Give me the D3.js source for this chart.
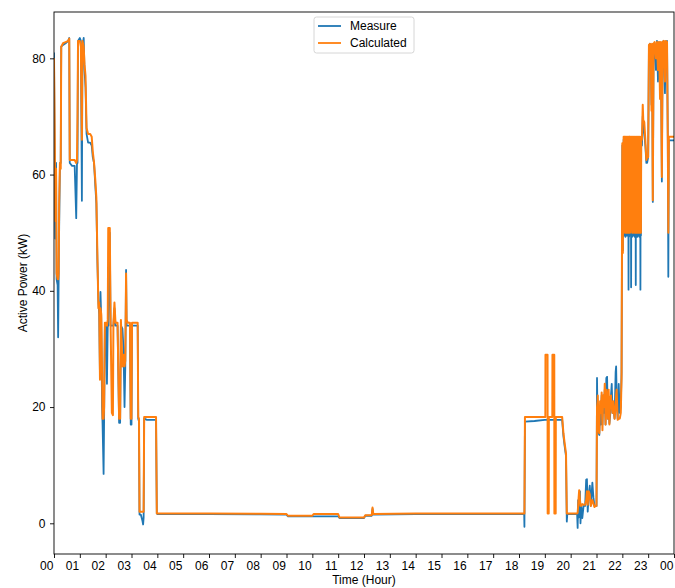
<!DOCTYPE html>
<html>
<head>
<meta charset="utf-8">
<script src="https://cdn.jsdelivr.net/npm/d3@7"></script>
<style>
  body { margin: 0; background: #fff; }
  svg { font-family: "Liberation Sans", Arial, sans-serif; }
  .tick text { font-size: 12px; fill: #000; }
  .tick line { stroke: #000; stroke-width: 0.9; }
</style>
</head>
<body>
<div id="chart"></div>
<script>
// time of day in hours
var hours = [
  0.00, 0.03, 0.05, 0.08, 0.10, 0.14, 0.16, 0.18, 0.20, 0.23, 0.26, 0.28, 0.35, 0.45, 0.55, 0.59,
  0.61, 0.70, 0.80, 0.86, 0.89, 0.91, 0.93, 1.00, 1.04, 1.08, 1.10, 1.15, 1.18, 1.22, 1.26, 1.32,
  1.40, 1.46, 1.50, 1.55, 1.60, 1.64, 1.68, 1.72, 1.75, 1.78, 1.80, 1.83, 1.86, 1.88, 1.92, 1.94,
  1.97, 2.01, 2.05, 2.08, 2.10, 2.16, 2.19, 2.24, 2.28, 2.30, 2.34, 2.38, 2.46, 2.52, 2.56, 2.59,
  2.65, 2.69, 2.73, 2.76, 2.79, 2.81, 2.86, 2.94, 2.97, 3.00, 3.02, 3.10, 3.20, 3.24, 3.26, 3.29,
  3.31, 3.36, 3.42, 3.45, 3.47, 3.49, 3.60, 3.80, 3.95, 3.98,
  4.00, 6.00, 8.00, 9.00, 9.05, 10.00, 10.05, 11.00, 11.05, 12.00, 12.05, 12.30, 12.33, 12.36, 14.00, 16.00, 18.20,
  18.21, 18.23, 18.60, 19.00, 19.02, 19.025, 19.105, 19.11, 19.15, 19.155, 19.29, 19.295, 19.365, 19.37, 19.42, 19.425,
  19.67, 19.72, 19.76, 19.82, 19.85, 19.87,
  20.25, 20.27, 20.29, 20.31, 20.33, 20.36, 20.38, 20.41, 20.45, 20.50, 20.56, 20.60, 20.63, 20.66, 20.70, 20.74,
  20.78, 20.84, 20.88, 20.92, 20.96, 21.00, 21.02, 21.04,
  21.05, 21.08, 21.11, 21.14, 21.17, 21.20, 21.23, 21.26, 21.29, 21.32, 21.35, 21.38, 21.41, 21.44, 21.47, 21.50,
  21.53, 21.56, 21.59, 21.62, 21.65, 21.70, 21.74, 21.76, 21.78, 21.82, 21.86, 21.90, 21.94, 21.97,
  22.00, 22.01, 22.02, 22.03, 22.04, 22.05, 22.06, 22.07, 22.08, 22.09,
  22.10, 22.11, 22.12, 22.13, 22.14, 22.15, 22.16, 22.17, 22.18, 22.19,
  22.20, 22.21, 22.22, 22.23, 22.24, 22.25, 22.26, 22.27, 22.28, 22.29,
  22.30, 22.31, 22.32, 22.33, 22.34, 22.35, 22.36, 22.37, 22.38, 22.39,
  22.40, 22.41, 22.42, 22.43, 22.44, 22.45, 22.46, 22.47, 22.48, 22.49,
  22.50, 22.51, 22.52, 22.53, 22.54, 22.55, 22.56, 22.57, 22.58, 22.59,
  22.60, 22.61, 22.62, 22.63, 22.64, 22.65, 22.66, 22.67, 22.68, 22.69,
  22.70, 22.71, 22.72, 22.73, 22.74, 22.76,
  22.79, 22.81, 22.85, 22.89, 22.93, 22.96, 23.00, 23.03, 23.07, 23.10, 23.13, 23.15, 23.18,
  23.21, 23.25, 23.30, 23.34, 23.38, 23.42, 23.46, 23.49, 23.53, 23.56, 23.60, 23.65, 23.68, 23.73, 23.76, 23.78,
  23.80, 24.00
];

var measure = [
  81, 60, 49, 62, 42, 41, 32, 42, 51, 62, 62, 82, 82.3, 82.6, 83, 83.5,
  62, 61.5, 61.5, 52.5, 62, 62, 83, 83.5, 83, 55.5, 82, 83.5, 78, 75, 67, 65.5,
  65.5, 65, 63, 62, 58, 55, 45, 38, 36, 25, 39.8, 35, 20, 17, 8.5, 18,
  34, 34, 24, 34, 34, 50, 34, 34, 34, 34, 37, 34, 34, 17.3, 17.3, 34,
  33.5, 30, 20, 27, 43.6, 34, 34, 34, 17, 17, 34, 34, 34, 34, 18, 17.5,
  1.5, 1.5, 0.5, -0.2, 1, 18, 17.8, 17.8, 17.8, 1.7,
  1.6, 1.6, 1.55, 1.5, 1.2, 1.2, 1.2, 1.2, 0.9, 0.9, 1.3, 1.3, 2.5, 1.5, 1.6, 1.6, 1.6,
  -0.6, 17.5, 17.6, 17.8, 17.8, 17.8, 17.8, 17.8, 17.8, 17.8, 17.8, 17.8, 17.8, 17.8, 17.8, 17.8,
  17.8, 15, 13.5, 11.5, 0.3, 1.6,
  1.6, -0.8, 4, 1, 2.5, 5.5, 0, 3, 0.9, 3, 3, 7.5, 7.6, 2, 5, 6.5,
  3, 7, 4.5, 3, 3, 3, 25, 18,
  17, 15.5, 15.2, 20, 17, 22, 17, 22, 19, 23, 17, 25, 25.2, 18, 21, 17.2,
  18.6, 22, 24, 19, 20, 18, 26, 27, 22, 18, 24, 19, 20, 26,
  65, 60, 47, 62, 50, 66, 49.5, 65, 50, 66,
  55, 66, 49.3, 64, 51, 66, 49.5, 65.5, 52, 66,
  49.5, 65, 50, 66, 40.2, 65, 49.3, 66, 55, 66,
  49.5, 64, 51, 66, 40.6, 65.5, 50, 66, 49.3, 65,
  53, 66, 49.5, 65, 50, 66, 56, 65.5, 49.3, 66,
  50, 65, 41, 66, 49.5, 64, 52, 66, 49.3, 65.5,
  55, 66, 49.5, 65, 50, 66, 49.3, 65, 52, 66,
  40.2, 65, 49.5, 66, 65, 65,
  70, 68, 67, 65, 62, 62, 63, 82, 82.5, 80, 72, 82, 55.3,
  82, 82.6, 78, 83, 76, 82.8, 75, 82.5, 58.8, 82.8, 83, 74, 82.8, 83, 65.9, 42.4,
  65.9, 65.9
];

var calculated = [
  80, 66, 52, 61, 43, 42, 42, 43, 55, 62, 61, 82, 82.6, 82.8, 83, 83.4,
  62.5, 62.5, 62.5, 62, 62.5, 70, 83, 83, 82, 66, 83, 82, 79, 77, 68, 67,
  67, 66.5, 64, 62, 59, 56, 46, 37, 38, 24.7, 37, 36, 26, 18, 18, 20,
  34.5, 34.5, 34, 35, 50.8, 50.8, 34.5, 19, 18.6, 34.5, 38, 34.5, 34.5, 18, 18, 35,
  27, 29, 27, 28, 43, 35, 34.5, 34.5, 18, 18, 34.5, 34.5, 34.5, 34.5, 18.3, 18,
  2, 2, 2, 2, 2, 18.3, 18.3, 18.3, 18.3, 1.7,
  1.7, 1.7, 1.65, 1.6, 1.3, 1.3, 1.6, 1.6, 1.0, 1.0, 1.4, 1.4, 2.7, 1.6, 1.7, 1.7, 1.7,
  1.7, 18.3, 18.3, 18.3, 18.3, 29, 29, 1.7, 1.7, 18.3, 18.3, 29, 29, 1.7, 1.7, 18.3,
  18.3, 15.5, 14, 12, 1.7, 1.7,
  1.7, 1.8, 3, 4.5, 5.7, 4, 3, 3, 3.3, 3.2, 3.2, 4, 5.5, 3.2, 5.5, 5,
  3, 4, 3.5, 2.8, 3, 3, 20, 21,
  22, 16, 15.5, 21, 19, 22.5, 16, 22, 20, 24, 17, 23, 22, 18, 23, 17,
  21, 22, 20, 19, 21, 18, 20, 22, 23, 17.8, 18, 18, 19, 25,
  65.4, 61, 46.5, 63, 51, 66.5, 50, 66, 51, 66.5,
  57, 66.5, 50, 65, 52, 66.5, 50, 66, 53, 66.5,
  50, 66, 51, 66.5, 50, 66, 50, 66.5, 57, 66.5,
  50, 65.5, 52, 66.5, 50.5, 66, 51, 66.5, 50, 66,
  54, 66.5, 50, 66, 51, 66.5, 58, 66, 50, 66.5,
  51, 66, 50, 66.5, 50, 65.5, 53, 66.5, 50, 66,
  57, 66.5, 50, 66, 51, 66.5, 50, 66, 53, 66.5,
  50, 66, 50, 66.5, 66, 66,
  72, 69.4, 69, 66, 62.5, 63, 63, 82.3, 82.5, 81, 71, 82.5, 55.6,
  82.5, 82.8, 80, 82.8, 78, 82.8, 73, 82.8, 59.6, 82.8, 83, 76, 83, 82.8, 66.5, 50,
  66.5, 66.5
];

var xTickLabels = ["00", "01", "02", "03", "04", "05", "06", "07", "08", "09", "10", "11",
  "12", "13", "14", "15", "16", "17", "18", "19", "20", "21", "22", "23", "00"];
var yTicks = [0, 20, 40, 60, 80];
var seriesNames = ["Measure", "Calculated"];
var seriesColors = ["#1f77b4", "#ff7f0e"];

var svgWidth = 675;
var svgHeight = 588;
var margin = { top: 12, right: 1, bottom: 34, left: 54 };
var width = svgWidth - margin.left - margin.right;
var height = svgHeight - margin.top - margin.bottom;

var svg = d3.select("#chart")
  .append("svg")
  .attr("width", svgWidth)
  .attr("height", svgHeight);

var chartGroup = svg.append("g")
  .attr("transform", `translate(${margin.left}, ${margin.top})`);

var xScale = d3.scaleLinear().domain([0, 24]).range([0, width]);
var yScale = d3.scaleLinear().domain([-5.28, 87.97]).range([height, 0]);

chartGroup.append("clipPath")
  .attr("id", "plotClip")
  .append("rect")
  .attr("width", width)
  .attr("height", height);

var rows = hours.map((h, i) => ({ t: h, m: measure[i], c: calculated[i] }));

var lineM = d3.line().x(d => xScale(d.t)).y(d => yScale(d.m));
var lineC = d3.line().x(d => xScale(d.t)).y(d => yScale(d.c));

var lines = chartGroup.append("g").attr("clip-path", "url(#plotClip)");
lines.append("path")
  .datum(rows)
  .attr("d", lineM)
  .attr("fill", "none")
  .attr("stroke", seriesColors[0])
  .attr("stroke-width", 1.8)
  .attr("stroke-linejoin", "round");
lines.append("path")
  .datum(rows)
  .attr("d", lineC)
  .attr("fill", "none")
  .attr("stroke", seriesColors[1])
  .attr("stroke-width", 2)
  .attr("stroke-linejoin", "round");

// axes
var bottomAxis = d3.axisBottom(xScale)
  .tickValues(d3.range(0, 25))
  .tickFormat((d, i) => xTickLabels[i])
  .tickSize(4)
  .tickPadding(3.5);
var leftAxis = d3.axisLeft(yScale)
  .tickValues(yTicks)
  .tickSize(4)
  .tickPadding(4.5);

var xAxisG = chartGroup.append("g")
  .attr("transform", `translate(0, ${height})`)
  .call(bottomAxis);
xAxisG.select(".domain").remove();
xAxisG.selectAll(".tick text")
  .attr("text-anchor", "end")
  .attr("x", -1.2);

var yAxisG = chartGroup.append("g").call(leftAxis);
yAxisG.select(".domain").remove();

// frame
chartGroup.append("rect")
  .attr("width", width)
  .attr("height", height)
  .attr("fill", "none")
  .attr("stroke", "#000")
  .attr("stroke-width", 0.9);

// axis labels
chartGroup.append("text")
  .attr("x", width / 2)
  .attr("y", height + 30)
  .attr("text-anchor", "middle")
  .attr("font-size", 12)
  .text("Time (Hour)");

chartGroup.append("text")
  .attr("transform", "rotate(-90)")
  .attr("x", -height / 2)
  .attr("y", -27)
  .attr("text-anchor", "middle")
  .attr("font-size", 12)
  .text("Active Power (kW)");

// legend
var legend = chartGroup.append("g")
  .attr("transform", `translate(${width / 2 - 50}, 5)`);
legend.append("rect")
  .attr("width", 100)
  .attr("height", 36)
  .attr("rx", 2.5)
  .attr("fill", "#fff")
  .attr("fill-opacity", 0.8)
  .attr("stroke", "#cccccc")
  .attr("stroke-width", 0.8);
seriesNames.forEach((name, i) => {
  var yPos = 9 + i * 17;
  legend.append("line")
    .attr("x1", 4).attr("x2", 27)
    .attr("y1", yPos).attr("y2", yPos)
    .attr("stroke", seriesColors[i])
    .attr("stroke-width", 1.8);
  legend.append("text")
    .attr("x", 36)
    .attr("y", yPos + 4.3)
    .attr("font-size", 12)
    .text(name);
});
</script>
</body>
</html>
